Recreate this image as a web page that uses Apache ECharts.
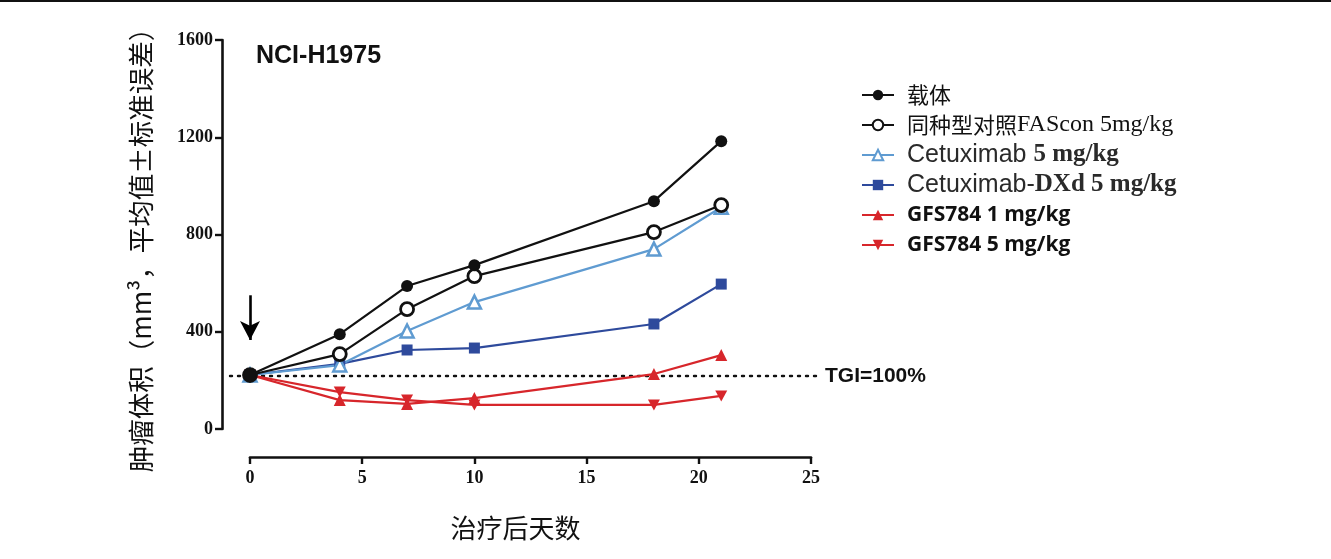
<!DOCTYPE html>
<html><head><meta charset="utf-8">
<script src="https://cdn.jsdelivr.net/npm/echarts@6/dist/echarts.min.js"></script>
<style>html,body{margin:0;padding:0;background:#fff}#c{width:1331px;height:559px}</style>
</head><body><div id="c"></div>
<script>
const days = [0, 4, 7, 10, 18, 21];
const vehicle = [222, 390, 588, 674, 937, 1184];
const isotype = [222, 308, 493, 629, 810, 921];
const cetuximab = [222, 263, 403, 522, 740, 912];
const cetuximabDXd = [222, 268, 325, 333, 432, 596];
const gfs784_1 = [222, 119, 103, 127, 226, 304];
const gfs784_5 = [222, 152, 119, 99, 99, 136];
const tgiLevel = 218;
const yTicks = [0, 400, 800, 1200, 1600];
const xTicks = [0, 5, 10, 15, 20, 25];
const names = ['载体', '同种型对照FAScon 5mg/kg', 'Cetuximab 5 mg/kg', 'Cetuximab-DXd 5 mg/kg', 'GFS784 1 mg/kg', 'GFS784 5 mg/kg'];

const SERIF = '"Liberation Serif","DejaVu Serif",serif';
const SANS = '"Liberation Sans",Arial,sans-serif';
const CJK = '"Noto Sans CJK SC",sans-serif';

function pts(arr){ return days.map((d,i)=>[d, arr[i]]); }

const chart = echarts.init(document.getElementById('c'), null, {renderer:'canvas'});

function mk(name, data, color, symbol, size, opts){
  return Object.assign({
    name, type:'line', data: pts(data), color,
    symbol, symbolSize:size, clip:false,
    lineStyle:{color, width:2.2},
    itemStyle:{color, borderColor:color, borderWidth:0},
    z: 3
  }, opts||{});
}

const series = [
  {
    name:'TGI', type:'line', xAxisIndex:1, yAxisIndex:1, silent:true,
    data:[[0, tgiLevel],[1, tgiLevel]], symbol:'none', z:1,
    lineStyle:{color:'#111', type:[2,6], width:2.4, cap:'round'},
    endLabel:{show:true, formatter:'TGI=100%', color:'#111', fontFamily:SANS, fontWeight:'bold', fontSize:21, distance:5}
  },
  mk(names[5], gfs784_5, '#d7262b', 'path://M0,0 L10,0 L5,9 Z', [12,11]),
  mk(names[4], gfs784_1, '#d7262b', 'triangle', 12),
  mk(names[3], cetuximabDXd, '#2e4a9c', 'rect', 11),
  mk(names[2], cetuximab, '#5f9bd1', 'triangle', 13, {itemStyle:{color:'#fff', borderColor:'#5f9bd1', borderWidth:2.5}}),
  mk(names[1], isotype, '#111', 'circle', 13, {itemStyle:{color:'#fff', borderColor:'#111', borderWidth:2.8}}),
  mk(names[0], vehicle, '#111', 'circle', 12),
  {
    name:'arrow', type:'line', data:[], silent:true, clip:false,
    markLine:{
      silent:true, symbol:['none','arrow'], symbolSize:[15,19],
      lineStyle:{color:'#000', type:'solid', width:2.6},
      label:{show:false},
      data:[[{coord:[0, 550]},{coord:[0, 366]}]]
    }
  }
];

const rich = {
  cjk:{fontFamily:CJK, fontSize:22, color:'#111'},
  ser:{fontFamily:SERIF, fontSize:24, color:'#111'},
  sans:{fontFamily:SANS, fontSize:25, color:'#2a2a2a'},
  sb:{fontFamily:SERIF, fontSize:25, fontWeight:'bold', color:'#2a2a2a'},
  gb:{fontFamily:'"Open Sans",'+SANS, fontSize:21, fontWeight:'bold', color:'#111'}
};

const hiddenAxis = {show:false, axisLine:{show:false}, axisTick:{show:false}, axisLabel:{show:false}, splitLine:{show:false}};

chart.setOption({
  animation:false,
  backgroundColor:'#fff',
  grid:[
    {left:250, top:40, width:561, height:389, containLabel:false},
    {left:230, top:40, width:590, height:389, containLabel:false}
  ],
  title:{text:'NCI-H1975', left:251, top:39, textStyle:{fontFamily:SANS, fontWeight:'bold', fontSize:25, color:'#111'}},
  legend:{
    left:856, top:76, orient:'vertical', itemWidth:32, itemHeight:13, itemGap:2,
    data:names,
    textStyle:{rich, padding:[0,0,0,8], lineHeight:28},
    formatter:function(n){
      if(n===names[0]) return '{cjk|载体}';
      if(n===names[1]) return '{cjk|同种型对照}{ser|FAScon 5mg/kg}';
      if(n===names[2]) return '{sans|Cetuximab }{sb|5 mg/kg}';
      if(n===names[3]) return '{sans|Cetuximab-}{sb|DXd 5 mg/kg}';
      if(n===names[4]) return '{gb|GFS784 1 mg/kg}';
      return '{gb|GFS784 5 mg/kg}';
    }
  },
  xAxis:[{
    type:'value', min:0, max:25, interval:5, offset:28, gridIndex:0,
    axisLine:{show:true, onZero:false, lineStyle:{color:'#111', width:2.6}},
    axisTick:{show:true, length:7, lineStyle:{color:'#111', width:2.4}},
    axisLabel:{fontFamily:SERIF, fontWeight:'bold', fontSize:18, color:'#111', margin:12,
      formatter:v=>xTicks.includes(v)?String(v):''},
    splitLine:{show:false},
    name:'治疗后天数', nameLocation:'middle', nameGap:58,
    nameTextStyle:{fontFamily:CJK, fontSize:26, color:'#111', padding:[0,30,0,0]}
  }, Object.assign({type:'value', min:0, max:1, gridIndex:1}, hiddenAxis)],
  yAxis:[{
    type:'value', min:0, max:1600, interval:400, offset:28, gridIndex:0,
    axisLine:{show:true, onZero:false, lineStyle:{color:'#111', width:2.6}},
    axisTick:{show:true, length:7, lineStyle:{color:'#111', width:2.4}},
    axisLabel:{fontFamily:SERIF, fontWeight:'bold', fontSize:18, color:'#111', margin:9,
      formatter:v=>yTicks.includes(v)?String(v):''},
    splitLine:{show:false},
    name:'肿瘤体积（mm³，平均值±标准误差）', nameLocation:'middle', nameGap:68, nameRotate:90,
    nameTextStyle:{fontFamily:CJK, fontSize:26.5, color:'#111', padding:[0,18,0,0]}
  }, Object.assign({type:'value', min:0, max:1600, gridIndex:1}, hiddenAxis)],
  graphic:[{type:'rect', shape:{x:0, y:0, width:1331, height:2}, style:{fill:'#111'}}],
  series
});
</script></body></html>
